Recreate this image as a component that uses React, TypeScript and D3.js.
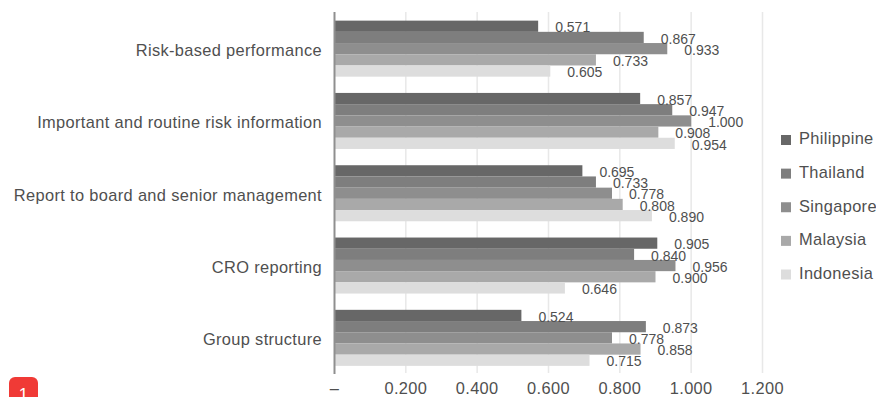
import React from "react";
import * as d3 from "d3";

const categories = [
  "Risk-based performance",
  "Important and routine risk information",
  "Report to board and senior management",
  "CRO reporting",
  "Group structure",
];
const seriesNames = ["Philippine", "Thailand", "Singapore", "Malaysia", "Indonesia"];
const philippine = [0.571, 0.857, 0.695, 0.905, 0.524];
const thailand = [0.867, 0.947, 0.733, 0.84, 0.873];
const singapore = [0.933, 1.0, 0.778, 0.956, 0.778];
const malaysia = [0.733, 0.908, 0.808, 0.9, 0.858];
const indonesia = [0.605, 0.954, 0.89, 0.646, 0.715];
const seriesValues = [philippine, thailand, singapore, malaysia, indonesia];
const seriesColors = ["#676767", "#7e7e7e", "#8e8e8e", "#a9a9a9", "#dddddd"];
const xTicks = [0, 0.2, 0.4, 0.6, 0.8, 1.0, 1.2];

const W = 876;
const H = 397;
const FONT = "'Liberation Sans', Arial, sans-serif";
const INK = "#4f4f4f";
const LABEL_SIZE = 16.4;
const LABEL_SPACING = 0.35;

export default function App() {
  const x = d3.scaleLinear().domain([0, 1.2]).range([334.5, 762.5]);
  const y = d3.scaleBand<string>().domain(categories).range([12.5, 374]).paddingInner(0.225).paddingOuter(0.1125);
  const inner = d3.scaleBand<string>().domain(seriesNames).range([0, y.bandwidth()]);
  const legendY = d3.scalePoint<string>().domain(seriesNames).range([140, 274.5]);

  return (
    <svg
      width={W}
      height={H}
      viewBox={`0 0 ${W} ${H}`}
      style={{ position: "absolute", left: 0, top: 0, background: "#fff", fontFamily: FONT }}
    >
      {xTicks.slice(1).map((t) => (
        <line key={t} x1={x(t)} x2={x(t)} y1={12} y2={373} stroke="#e8e8e8" strokeWidth={1.5} />
      ))}

      {categories.map((c, i) =>
        seriesNames.map((s, j) => (
          <rect
            key={c + s}
            x={x(0)}
            y={(y(c) as number) + (inner(s) as number)}
            width={x(seriesValues[j][i]) - x(0)}
            height={inner.bandwidth()}
            fill={seriesColors[j]}
          />
        ))
      )}

      <line x1={x(0)} x2={x(0)} y1={12} y2={374} stroke="#8f8f8f" strokeWidth={2} />

      {categories.map((c, i) =>
        seriesNames.map((s, j) => (
          <text
            key={c + s}
            x={x(seriesValues[j][i]) + 17}
            y={(y(c) as number) + (inner(s) as number) + inner.bandwidth() / 2 + 2.5}
            dominantBaseline="middle"
            fontSize={14}
            fill={INK}
          >
            {seriesValues[j][i].toFixed(3)}
          </text>
        ))
      )}

      {categories.map((c) => (
        <text
          key={c}
          x={322}
          y={(y(c) as number) + y.bandwidth() / 2 + 3}
          dominantBaseline="middle"
          textAnchor="end"
          fontSize={LABEL_SIZE}
          letterSpacing={LABEL_SPACING}
          fill={INK}
        >
          {c}
        </text>
      ))}

      {xTicks.map((t) => (
        <text
          key={t}
          x={x(t)}
          y={394}
          textAnchor="middle"
          fontSize={LABEL_SIZE}
          letterSpacing={LABEL_SPACING}
          fill={INK}
        >
          {t === 0 ? "–" : t.toFixed(3)}
        </text>
      ))}

      {seriesNames.map((s, j) => (
        <g key={s}>
          <rect x={781} y={(legendY(s) as number) - 5} width={10} height={10} fill={seriesColors[j]} />
          <text
            x={799}
            y={legendY(s) as number}
            dominantBaseline="middle"
            fontSize={LABEL_SIZE}
            letterSpacing={LABEL_SPACING}
            fill={INK}
          >
            {s}
          </text>
        </g>
      ))}

      <path d="M9 397 V383 a6 6 0 0 1 6 -6 H32 a6 6 0 0 1 6 6 V397 Z" fill="#f03a36" />
      <text x={23.5} y={400} textAnchor="middle" fontSize={17} fill="#fff">
        1
      </text>
    </svg>
  );
}
